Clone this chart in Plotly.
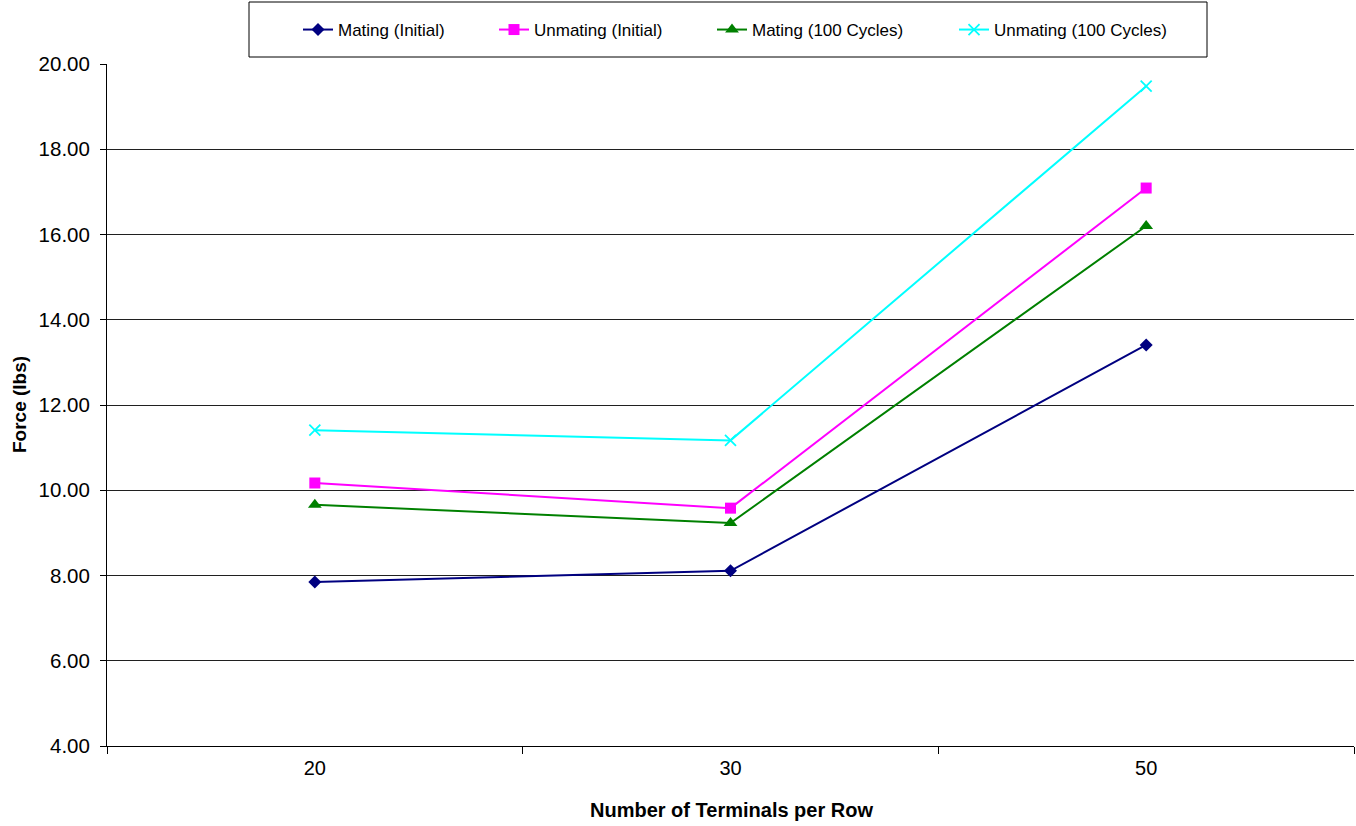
import plotly.graph_objects as go

categories = ["20", "30", "50"]
mating_initial = [7.85, 8.11, 13.41]
unmating_initial = [10.17, 9.58, 17.09]
mating_100 = [9.66, 9.23, 16.20]
unmating_100 = [11.41, 11.17, 19.48]
y_ticks = [4, 6, 8, 10, 12, 14, 16, 18, 20]

series = [
    ("Mating (Initial)", mating_initial, "#000080", "diamond", 10),
    ("Unmating (Initial)", unmating_initial, "#FF00FF", "square", 11),
    ("Mating (100 Cycles)", mating_100, "#008000", "triangle-up", 12),
    ("Unmating (100 Cycles)", unmating_100, "#00FFFF", "x-thin", 11),
]
legend_ids = ["legend", "legend2", "legend3", "legend4"]
legend_starts = [293, 489, 707, 949]

W, H = 1356, 826
font = "Liberation Sans, Arial, sans-serif"

fig = go.Figure()
for (name, vals, color, sym, size), lid in zip(series, legend_ids):
    marker = dict(symbol=sym, size=size, color=color)
    if sym == "x-thin":
        marker["line"] = dict(color=color, width=1.8)
    fig.add_trace(go.Scatter(
        x=categories, y=vals, name=name, mode="lines+markers",
        line=dict(color=color, width=2), marker=marker, legend=lid,
    ))

legend_layout = {}
for lid, start in zip(legend_ids, legend_starts):
    legend_layout[lid] = dict(
        xref="container", yref="container",
        x=(start + 5) / W, xanchor="left",
        y=1 - 30 / H, yanchor="middle",
        bgcolor="rgba(0,0,0,0)", borderwidth=0,
        font=dict(size=17, family=font, color="black"),
    )

plot_l, plot_r, plot_t, plot_b = 107, 1354, 64, 746
pw, ph = plot_r - plot_l, plot_b - plot_t

fig.update_layout(
    width=W, height=H,
    margin=dict(l=plot_l, r=W - plot_r, t=plot_t, b=H - plot_b, autoexpand=False),
    paper_bgcolor="white", plot_bgcolor="white",
    font=dict(family=font, size=20, color="black"),
    showlegend=True,
    **legend_layout,
    xaxis=dict(
        type="category", range=[-0.5, 2.5], tickson="boundaries",
        ticks="outside", ticklen=7, tickcolor="black",
        showline=True, linecolor="black", linewidth=1,
        showgrid=False, tickfont=dict(size=20), ticklabelstandoff=4,
    ),
    yaxis=dict(
        range=[4, 20], tickvals=y_ticks, ticktext=[f"{v:.2f}" for v in y_ticks],
        ticks="outside", ticklen=6, tickcolor="black",
        showline=True, linecolor="black", linewidth=1,
        showgrid=True, gridcolor="#202020", gridwidth=1,
        zeroline=False, tickfont=dict(size=20.5), ticklabelstandoff=6,
    ),
    shapes=[dict(
        type="rect", xref="paper", yref="paper",
        x0=(249 - plot_l) / pw, x1=(1207 - plot_l) / pw,
        y0=(plot_b - 57) / ph, y1=(plot_b - 2) / ph,
        line=dict(color="black", width=1), fillcolor="rgba(0,0,0,0)",
        layer="above",
    )],
    annotations=[
        dict(text="<b>Force (lbs)</b>", textangle=-90, xref="paper", yref="paper",
             x=(19 - plot_l) / pw, y=0.5, xanchor="center", yanchor="middle",
             showarrow=False, font=dict(size=19, family=font, color="black")),
        dict(text="<b>Number of Terminals per Row</b>", xref="paper", yref="paper",
             x=(731 - plot_l) / pw, y=(plot_b - 810) / ph, xanchor="center", yanchor="middle",
             showarrow=False, font=dict(size=20, family=font, color="black")),
    ],
)
fig.write_html(
    "out.html",
    config={"displayModeBar": False},
    post_script="document.body.style.margin='0';document.body.style.padding='0';",
)
